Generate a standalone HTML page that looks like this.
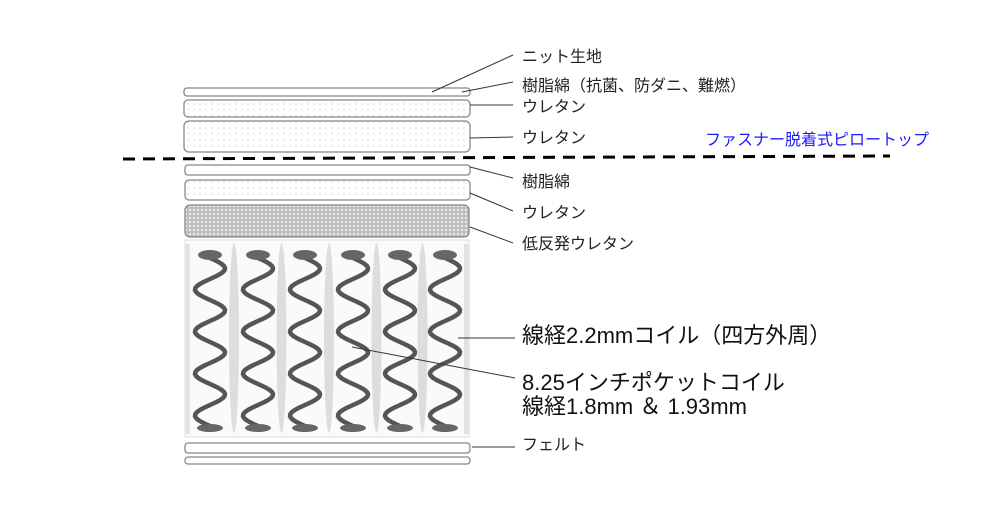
<!DOCTYPE html>
<html><head><meta charset="utf-8"><style>
html,body{margin:0;padding:0;background:#fff;}
text{font-family:"Liberation Sans","Noto Sans CJK JP",sans-serif;}
</style></head><body>
<svg id="s" width="1000" height="500" viewBox="0 0 1000 500" xmlns="http://www.w3.org/2000/svg">
<defs>
<pattern id="dots" width="6" height="6" patternUnits="userSpaceOnUse"><rect width="6" height="6" fill="#fff"/><circle cx="2" cy="2" r="0.7" fill="#ccc"/></pattern>
<pattern id="dark" width="4" height="4" patternUnits="userSpaceOnUse"><rect width="4" height="4" fill="#bbb"/><circle cx="2" cy="2" r="1.3" fill="#e8e8e8"/></pattern>
</defs>
<g stroke="#888" stroke-width="1.3">
<rect x="184" y="88" width="286" height="8" rx="3" fill="#fff"/>
<rect x="184" y="100" width="286" height="17" rx="4" fill="url(#dots)"/>
<rect x="184" y="121" width="286" height="31" rx="5" fill="url(#dots)"/>
<rect x="185" y="165" width="285" height="10" rx="3" fill="#fff"/>
<rect x="185" y="180" width="285" height="20" rx="4" fill="url(#dots)"/>
<rect x="185" y="205" width="284" height="32" rx="5" fill="url(#dark)"/>
<rect x="185" y="443" width="285" height="10" rx="3" fill="#fff"/>
<rect x="185" y="457" width="285" height="7" rx="3" fill="#fff"/>
</g>
<line x1="123" y1="159" x2="890" y2="156" stroke="#000" stroke-width="3" stroke-dasharray="12,8"/>
<g id="coils"></g>
<g stroke="#333" stroke-width="1">
<line x1="432" y1="92" x2="513" y2="55"/>
<line x1="462" y1="92" x2="513" y2="82"/>
<line x1="470" y1="105" x2="513" y2="105"/>
<line x1="470" y1="138" x2="513" y2="137"/>
<line x1="470" y1="167" x2="513" y2="178"/>
<line x1="470" y1="193" x2="513" y2="211"/>
<line x1="470" y1="227" x2="513" y2="243"/>
<line x1="458" y1="338" x2="515" y2="338"/>
<line x1="352" y1="347" x2="515" y2="378"/>
<line x1="472" y1="447" x2="515" y2="447"/>
</g>
<g font-size="16" fill="#222">
<text x="522" y="62">ニット生地</text>
<text x="522" y="91">樹脂綿（抗菌、防ダニ、難燃）</text>
<text x="522" y="112">ウレタン</text>
<text x="522" y="143">ウレタン</text>
<text x="522" y="187">樹脂綿</text>
<text x="522" y="218">ウレタン</text>
<text x="522" y="249">低反発ウレタン</text>
<text x="522" y="450">フェルト</text>
</g>
<text x="705" y="145" font-size="16" fill="#1a1aff">ファスナー脱着式ピロートップ</text>
<g font-size="22" fill="#111">
<text x="522" y="343">線経2.2mmコイル（四方外周）</text>
<text x="522" y="390">8.25インチポケットコイル</text>
<text x="522" y="414">線経1.8mm ＆ 1.93mm</text>
</g>
</svg>
<script>
var g=document.getElementById('coils'),h='';
var cs=[210,258,305,353,400,445];
h+='<rect x="185" y="240" width="284" height="197" fill="#fafafa" stroke="#ddd"/>';
for(var i=0;i<5;i++){var x=(cs[i]+cs[i+1])/2;h+='<ellipse cx="'+x+'" cy="338" rx="5" ry="95" fill="#ddd"/>';}
h+='<rect x="185" y="244" width="5" height="190" fill="#e2e2e2"/><rect x="464" y="244" width="5" height="190" fill="#e2e2e2"/>';
cs.forEach(function(cx){var p='';for(var y=258;y<=426;y+=2){var xx=cx+15*Math.sin(2*Math.PI*(y-258)/42);p+=xx.toFixed(1)+','+y+' ';}
h+='<polyline points="'+p+'" fill="none" stroke="#555" stroke-width="4.5"/>';
h+='<ellipse cx="'+cx+'" cy="255" rx="12" ry="5" fill="#666"/><ellipse cx="'+cx+'" cy="428" rx="13" ry="4" fill="#666"/>';});
g.innerHTML=h;
</script>
</body></html>
